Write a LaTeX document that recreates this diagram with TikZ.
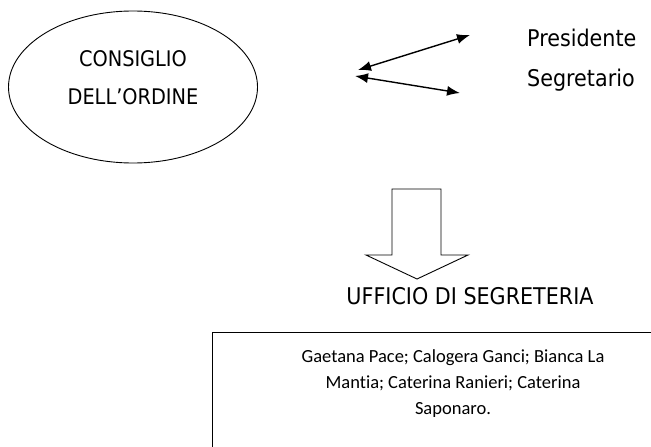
\documentclass[tikz,border=0pt]{standalone}
\usepackage{fontspec}
\setmainfont[Ligatures={NoCommon}]{Carlito}
\newfontfamily\labelfont{DejaVu Sans Condensed}
\usetikzlibrary{shapes,arrows.meta,positioning,calc}

\begin{document}
\begin{tikzpicture}[x=1pt,y=-1pt,>={Latex[length=13pt,width=10pt]},
		council/.style={ellipse,draw=black,line width=0.9pt,minimum width=249pt,minimum height=152pt,inner sep=0pt},
		role/.style={font=\labelfont\fontsize{23}{27}\selectfont,inner sep=0pt,anchor=west},
		link/.style={<->,line width=1.4pt},
		staff/.style={rectangle,draw=black,line width=1.2pt,anchor=north west,minimum width=482pt,minimum height=130pt,inner sep=0pt}]
		\clip (0,0) rectangle (651,447);
		\node[council] (consiglio) at (133,87) {};
		\node[font=\labelfont\fontsize{21.5}{26}\selectfont,align=center] (consigliotxt) at ([yshift=9pt]consiglio.center) {CONSIGLIO\\[12pt]DELL’ORDINE};
		
		\node[role] (pres) at (527,38) {Presidente};
		\node[role] (segr) at (527,80) {Segretario};
		
		\coordinate (presend) at (358,70);
		\coordinate (segrend) at (355,76);
		\draw[link] (presend) -- ([xshift=-57pt,yshift=3pt]pres.west);
		\draw[link] (segrend) -- ([xshift=-67pt,yshift=-13pt]segr.west);
		
		% freccia verso l'ufficio
		\draw[line width=0.9pt] (392,189) -- (441,189) -- (441,255) -- (468,255) -- (417,279)
			-- (366,255) -- (392,255) -- cycle;
		
		\node[font=\labelfont\fontsize{23}{27}\selectfont] (ufficio) at (470,296) {UFFICIO DI SEGRETERIA};
		\node[staff] (membri) at (212,332) {};
		\node[font=\fontsize{18.5}{22}\selectfont,align=center] (nomi) at (453,384)
			{Gaetana Pace; Calogera Ganci; Bianca La\\[4pt]Mantia; Caterina Ranieri; Caterina\\[4pt]Saponaro.};
\end{tikzpicture}
\end{document}
